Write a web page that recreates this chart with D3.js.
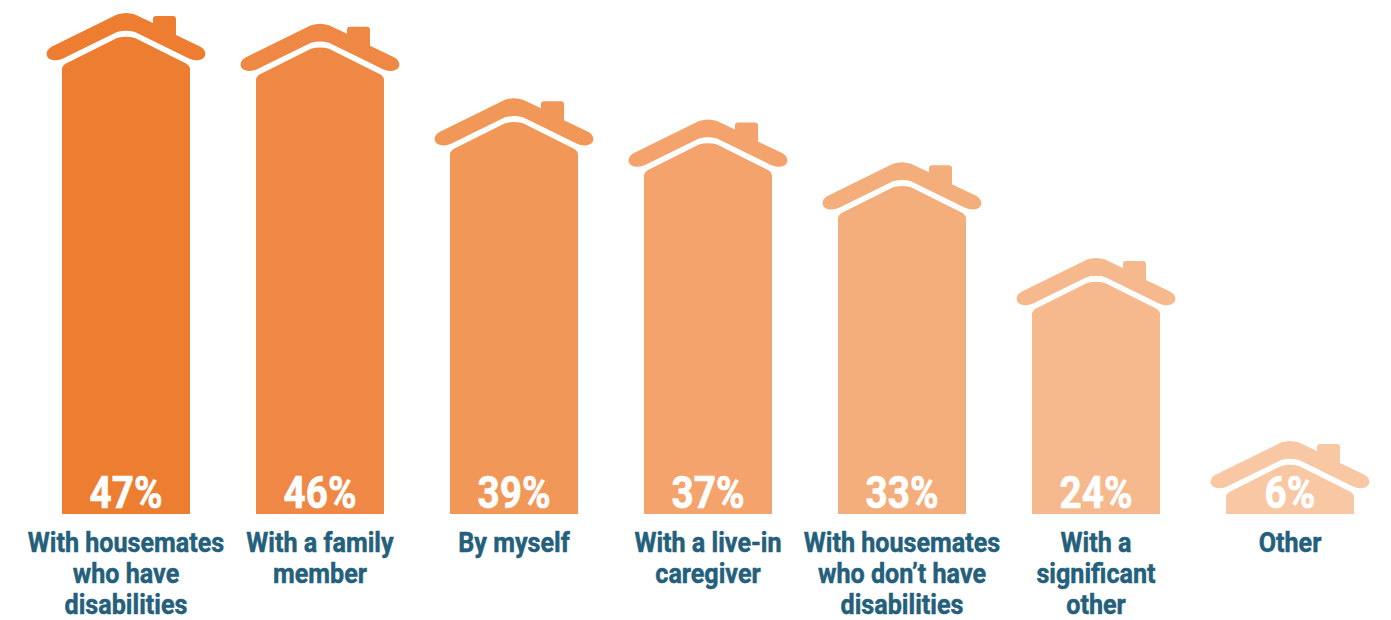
<!DOCTYPE html>
<html>
<head>
<meta charset="utf-8">
<script src="https://cdn.jsdelivr.net/npm/d3@7/dist/d3.min.js"></script>
<style>
  html, body { margin: 0; padding: 0; background: #fff; overflow: hidden; }
  text { font-family: Roboto, sans-serif; font-weight: 700; text-anchor: middle; }
</style>
</head>
<body>
<svg id="chart" width="1391" height="620"></svg>
<script>
// Living arrangements, one house per category
const categories = [
  "With housemates who have disabilities",
  "With a family member",
  "By myself",
  "With a live-in caregiver",
  "With housemates who don\u2019t have disabilities",
  "With a significant other",
  "Other"
];
const labelLines = [
  ["With housemates", "who have", "disabilities"],
  ["With a family", "member"],
  ["By myself"],
  ["With a live-in", "caregiver"],
  ["With housemates", "who don\u2019t have", "disabilities"],
  ["With a", "significant", "other"],
  ["Other"]
];
const values = [47, 46, 39, 37, 33, 24, 6];
const fills = ["#ED7D31", "#EF8845", "#F19757", "#F3A36B", "#F4AE7B", "#F6B98D", "#F8C8A5"];

const BASELINE = 514;

const svg = d3.select("#chart");

const x = d3.scalePoint().domain(categories).range([126, 1290]);
// Ridge height of each house; the shortest house keeps a visible roof
const y = d3.scaleLinear().domain([6, 24, 47]).range([441, 258, 13]);

// Roof with chimney, relative to the ridge centre
function roofPath() {
  const p = d3.path();
  p.moveTo(-9, 1.5);
  p.quadraticCurveTo(0, -1.5, 9, 1.5);
  p.lineTo(27, 10);
  p.lineTo(27, 6);
  p.quadraticCurveTo(27, 3, 30, 3);
  p.lineTo(47, 3);
  p.quadraticCurveTo(50, 3, 50, 6);
  p.lineTo(50, 22);
  p.lineTo(73, 33);
  p.bezierCurveTo(82, 37, 81, 46, 73, 47);
  p.quadraticCurveTo(68, 48, 63, 45.5);
  p.lineTo(9, 19);
  p.quadraticCurveTo(0, 16.5, -9, 19);
  p.lineTo(-63, 45.5);
  p.quadraticCurveTo(-68, 48, -73, 47);
  p.bezierCurveTo(-81, 46, -82, 37, -73, 33);
  p.closePath();
  return p.toString();
}

// Walls under the roof, running down to the shared baseline
function bodyPath(height) {
  const p = d3.path();
  p.moveTo(-64, height);
  p.lineTo(-64, 56);
  p.quadraticCurveTo(-64, 53, -60, 50.5);
  p.lineTo(-9, 25);
  p.quadraticCurveTo(0, 22.5, 9, 25);
  p.lineTo(60, 50.5);
  p.quadraticCurveTo(64, 53, 64, 56);
  p.lineTo(64, height);
  p.closePath();
  return p.toString();
}

const houses = svg.selectAll("g.house")
  .data(categories)
  .join("g")
  .attr("class", "house")
  .attr("transform", d => `translate(${x(d)},0)`);

houses.each(function (d, i) {
  const g = d3.select(this);
  const top = y(values[i]);
  const shape = g.append("g").attr("transform", `translate(0,${top})`).attr("fill", fills[i]);
  shape.append("path").attr("d", roofPath());
  shape.append("path").attr("d", bodyPath(BASELINE - top));

  g.append("text")
    .attr("transform", "translate(0,508) scale(0.86,1)")
    .attr("font-size", 45)
    .attr("fill", "#fff")
    .attr("stroke", "#fff")
    .attr("stroke-width", 0.7)
    .text(values[i] + "%");

  labelLines[i].forEach((line, k) => {
    g.append("text")
      .attr("transform", `translate(0,${551.5 + k * 31.2}) scale(0.882,1)`)
      .attr("font-size", 28.5)
      .attr("fill", "#245F7C")
      .attr("stroke", "#245F7C")
      .attr("stroke-width", 0.5)
      .text(line);
  });
});
</script>
</body>
</html>
